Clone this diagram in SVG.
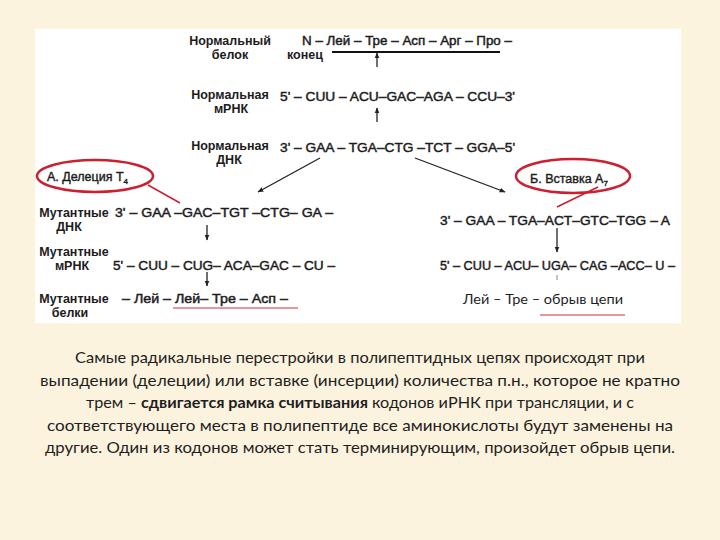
<svg xmlns="http://www.w3.org/2000/svg" width="720" height="540" viewBox="0 0 720 540">
<defs>
<style>
.lbl{font-family:"Liberation Sans",Arial,sans-serif;font-size:12.5px;font-weight:bold;fill:#1c1c1c;text-anchor:middle}
.seq{font-family:"Liberation Sans",Arial,sans-serif;font-size:13px;fill:#1c1c1c;stroke:#1c1c1c;stroke-width:0.45}
.tag{font-family:"Liberation Sans",Arial,sans-serif;font-size:12.5px;fill:#1c1c1c;stroke:#1c1c1c;stroke-width:0.4}
.cal{font-family:Lato,"Open Sans","Liberation Sans",sans-serif;fill:#1e1e1e}
.body{font-size:16px;text-anchor:middle}
.arr{stroke:#222;stroke-width:1.3;fill:none;marker-end:url(#ah)}
.red{stroke:#cc1f2f;fill:none}
</style>
<marker id="ah" viewBox="0 0 10 10" refX="9" refY="5" markerWidth="6" markerHeight="6" orient="auto" markerUnits="userSpaceOnUse">
<path d="M0,1 L10,5 L0,9 z" fill="#222"/>
</marker>
</defs>
<rect width="720" height="540" fill="#fcf3de"/>
<rect x="35" y="29" width="646" height="294" fill="#ffffff"/>

<g id="normal-protein">
<text class="lbl" x="230" y="45">Нормальный</text>
<text class="lbl" x="230" y="59">белок</text>
<text class="seq" x="302" y="45" textLength="210" lengthAdjust="spacingAndGlyphs">N – Лей – Тре – Асп – Арг – Про –</text>
<text class="lbl" x="305" y="59">конец</text>
<line x1="332" y1="52" x2="500" y2="52" stroke="#111" stroke-width="2"/>
</g>

<g id="normal-mrna">
<text class="lbl" x="230" y="99">Нормальная</text>
<text class="lbl" x="231" y="113">мРНК</text>
<text class="seq" x="280" y="101" textLength="235" lengthAdjust="spacingAndGlyphs">5' – CUU – ACU–GAC–AGA – CCU–3'</text>
</g>

<g id="normal-dna">
<text class="lbl" x="230" y="150">Нормальная</text>
<text class="lbl" x="229" y="164">ДНК</text>
<text class="seq" x="280" y="152" textLength="235" lengthAdjust="spacingAndGlyphs">3' – GAA – TGA–CTG –TCT – GGA–5'</text>
</g>

<g id="deletion-label">
<ellipse class="red" cx="95" cy="176" rx="58" ry="16" stroke-width="2.5"/>
<text class="tag" x="47" y="181">А. Делеция T<tspan font-size="8" dy="3">4</tspan></text>
<line class="red" x1="148" y1="185" x2="180" y2="203" stroke-width="1.5"/>
</g>

<g id="mutant-dna-a">
<text class="lbl" x="74" y="217">Мутантные</text>
<text class="lbl" x="69" y="231">ДНК</text>
<text class="seq" x="115" y="217" textLength="218" lengthAdjust="spacingAndGlyphs">3' – GAA –GAC–TGT –CTG– GA –</text>
</g>

<g id="mutant-mrna-a">
<text class="lbl" x="74" y="256">Мутантные</text>
<text class="lbl" x="72" y="270">мРНК</text>
<text class="seq" x="113" y="270" textLength="222" lengthAdjust="spacingAndGlyphs">5' – CUU – CUG– ACA–GAC – CU –</text>
</g>

<g id="mutant-protein-a">
<text class="lbl" x="74" y="303">Мутантные</text>
<text class="lbl" x="70" y="317">белки</text>
<text class="seq" x="122" y="303" textLength="166" lengthAdjust="spacingAndGlyphs">– Лей – Лей– Тре – Асп –</text>
<line x1="173" y1="308" x2="298" y2="308" stroke="#d0303a" stroke-width="1.2"/>
</g>

<g id="insertion-label">
<ellipse class="red" cx="573" cy="176" rx="57" ry="17" stroke-width="2.5"/>
<text class="tag" x="530" y="183">Б. Вставка A<tspan font-size="8" dy="3">7</tspan></text>
<line class="red" x1="598" y1="187" x2="557" y2="207" stroke-width="1.5"/>
</g>

<g id="mutant-dna-b">
<text class="seq" x="440" y="225" textLength="230" lengthAdjust="spacingAndGlyphs">3' – GAA – TGA–ACT–GTC–TGG – A</text>
</g>

<g id="mutant-mrna-b">
<text class="seq" x="440" y="270" textLength="235" lengthAdjust="spacingAndGlyphs">5' – CUU – ACU– UGA– CAG –ACC– U –</text>
<line x1="557" y1="275" x2="557" y2="280" stroke="#888" stroke-width="1"/>
</g>

<g id="mutant-protein-b">
<text class="cal" x="463" y="304" font-size="13.5" textLength="160" lengthAdjust="spacingAndGlyphs">Лей – Тре – обрыв цепи</text>
<line x1="540" y1="315" x2="625" y2="315" stroke="#d0303a" stroke-width="1.2"/>
</g>

<g id="connectors">
<line class="arr" x1="377" y1="67" x2="377" y2="53"/>
<line class="arr" x1="377" y1="122" x2="377" y2="108"/>
<line class="arr" x1="320" y1="158" x2="258" y2="192"/>
<line class="arr" x1="415" y1="158" x2="505" y2="192"/>
<line class="arr" x1="207" y1="225" x2="207" y2="240"/>
<line class="arr" x1="207" y1="272" x2="207" y2="286"/>
<line class="arr" x1="557" y1="228" x2="557" y2="252"/>
</g>

<g id="caption" class="cal">
<text class="body" x="360" y="363" textLength="570" lengthAdjust="spacingAndGlyphs">Самые радикальные перестройки в полипептидных цепях происходят при</text>
<text class="body" x="360" y="386" textLength="640" lengthAdjust="spacingAndGlyphs">выпадении (делеции) или вставке (инсерции) количества п.н., которое не кратно</text>
<text class="body" x="360" y="408" textLength="548" lengthAdjust="spacingAndGlyphs">трем – <tspan font-weight="bold">сдвигается рамка считывания</tspan> кодонов иРНК при трансляции, и с</text>
<text class="body" x="360" y="431" textLength="626" lengthAdjust="spacingAndGlyphs">соответствующего места в полипептиде все аминокислоты будут заменены на</text>
<text class="body" x="360" y="453" textLength="630" lengthAdjust="spacingAndGlyphs">другие.  Один из кодонов может стать терминирующим, произойдет обрыв цепи.</text>
</g>
</svg>
